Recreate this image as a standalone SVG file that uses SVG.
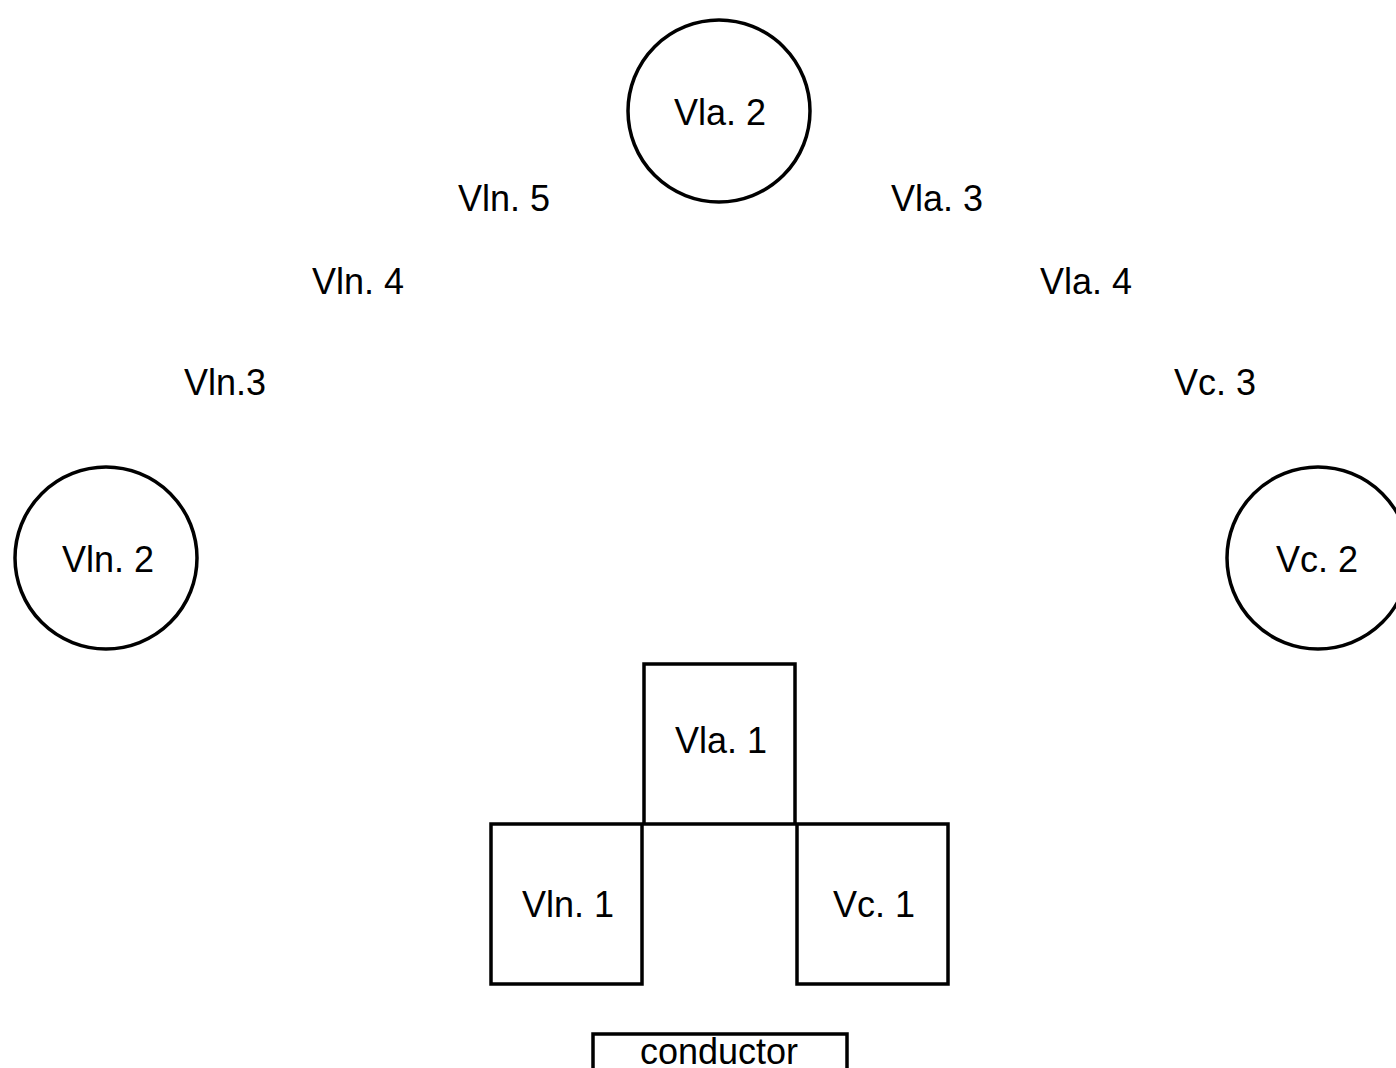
<svg xmlns="http://www.w3.org/2000/svg" width="1396" height="1068" viewBox="0 0 1396 1068">
<style>
.s{fill:#fff;stroke:#000;stroke-width:3.5}
.t{font-family:"Liberation Sans",Arial,sans-serif;font-size:36px;fill:#000;text-anchor:middle}
</style>
<rect width="1396" height="1068" fill="#fff"/>
<g id="vla2"><circle class="s" cx="719" cy="111" r="91"/><text class="t" x="720" y="125">Vla. 2</text></g>
<g id="vln2"><circle class="s" cx="106" cy="558" r="91"/><text class="t" x="108" y="572">Vln. 2</text></g>
<g id="vc2"><circle class="s" cx="1318" cy="558" r="91"/><text class="t" x="1317" y="572">Vc. 2</text></g>
<g id="vln5"><text class="t" x="504" y="211">Vln. 5</text></g>
<g id="vla3"><text class="t" x="937" y="211">Vla. 3</text></g>
<g id="vln4"><text class="t" x="358" y="294">Vln. 4</text></g>
<g id="vla4"><text class="t" x="1086" y="294">Vla. 4</text></g>
<g id="vln3"><text class="t" x="225" y="395">Vln.3</text></g>
<g id="vc3"><text class="t" x="1215" y="395">Vc. 3</text></g>
<g id="vla1"><rect class="s" x="644" y="664" width="151" height="160"/><text class="t" x="721" y="753">Vla. 1</text></g>
<g id="vln1"><rect class="s" x="491" y="824" width="151" height="160"/><text class="t" x="568" y="917">Vln. 1</text></g>
<g id="vc1"><rect class="s" x="797" y="824" width="151" height="160"/><text class="t" x="874" y="917">Vc. 1</text></g>
<g id="conductor"><rect class="s" x="593" y="1034" width="254" height="50"/><text class="t" x="719" y="1064">conductor</text></g>
<g id="connectors"/>
</svg>
